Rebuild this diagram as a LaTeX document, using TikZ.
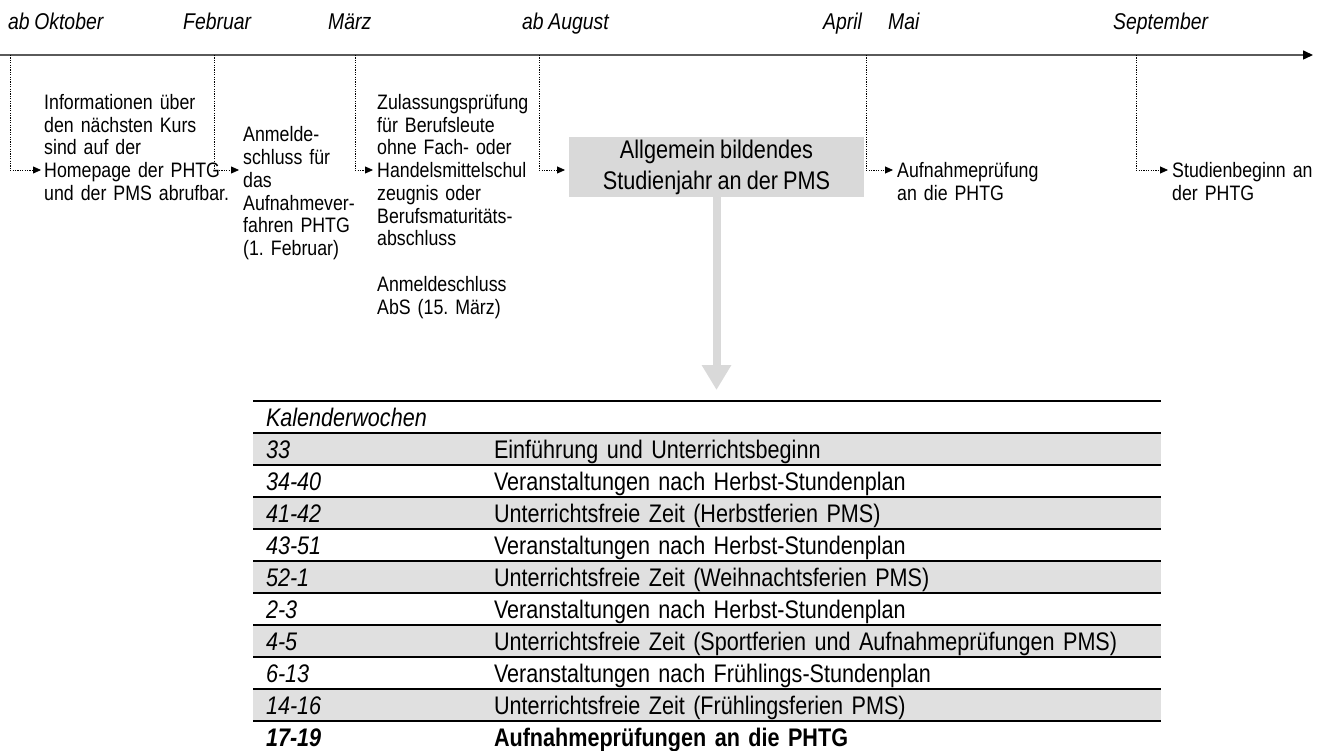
\documentclass[tikz,border=0pt]{standalone}
\usepackage{fontspec}
\setmainfont{Liberation Sans}[FakeStretch=0.85,WordSpace=0.85]
\frenchspacing
\usetikzlibrary{arrows.meta,positioning,matrix}
\definecolor{boxgray}{RGB}{217,217,217}
\definecolor{rowgray}{RGB}{224,224,224}
\definecolor{axisgray}{RGB}{90,90,90}
\newcommand{\topfont}{\fontsize{20.9}{22.75}\selectfont}
\newcommand{\monthfont}{\fontsize{22.8}{26}\selectfont\itshape}
\newcommand{\boxfont}{\fontsize{25.5}{31}\selectfont}
\newcommand{\tabfont}{\fontsize{25.4}{30}\selectfont}
\tikzset{
  month/.style={anchor=base west,inner sep=0pt,font=\monthfont},
  note/.style={anchor=base west,inner sep=0pt,text width=200pt,align=left,font=\topfont},
  yearbox/.style={fill=boxgray,minimum width=295pt,minimum height=60pt,inner sep=0pt,align=center,font=\boxfont},
  link/.style={-{Triangle[length=8pt,width=7pt]},dash pattern=on 1.2pt off 1.2pt,line width=0.8pt},
  axis/.style={-{Triangle[length=10pt,width=9pt,color=black]},line width=1.5pt,axisgray},
  bigarrow/.style={-{Triangle[length=25pt,width=28pt]},line width=8pt,boxgray},
  rule/.style={line width=1.8pt},
  cell/.style={inner ysep=0pt,outer sep=0pt,minimum height=32pt,text height=23pt,text depth=5pt,align=left,font=\tabfont}
}
\begin{document}
\begin{tikzpicture}[x=1pt,y=-1pt]
\useasboundingbox (0,0) rectangle (1321,751);
\node[month] (okt) at (8,30) {ab Oktober};
\node[month] (feb) at (183,30) {Februar};
\node[month] (mar) at (328,30) {März};
\node[month] (aug) at (522,30) {ab August};
\node[month] (apr) at (823,30) {April};
\node[month] (mai) at (888,30) {Mai};
\node[month] (sep) at (1113,30) {September};
\coordinate (axisstart) at (0,55);
\coordinate (axisend) at (1313,55);
\draw[axis] (axisstart) -- (axisend);
\coordinate (tokt) at (10,55);
\coordinate (tfeb) at (214,55);
\coordinate (tmar) at (355,55);
\coordinate (taug) at (539,55);
\coordinate (tmai) at (866,55);
\coordinate (tsep) at (1136,55);
\node[note] (info) at (44,109.5) {Informationen über\\den nächsten Kurs\\sind auf der\\Homepage der PHTG\\und der PMS abrufbar.};
\node[note] (anmeldung) at (243,142) {Anmelde-\\schluss für\\das\\Aufnahmever-\\fahren PHTG\\(1. Februar)};
\node[note] (zulassung) at (377,109.5) {Zulassungsprüfung\\für Berufsleute\\ohne Fach- oder\\Handelsmittelschul\\zeugnis oder\\Berufsmaturitäts-\\abschluss\\[22.75pt]Anmeldeschluss\\AbS (15. März)};
\node[yearbox] (year) at (716.5,167) {Allgemein bildendes\\Studienjahr an der PMS};
\node[note] (pruefung) at (897,177.5) {Aufnahmeprüfung\\an die PHTG};
\node[note] (beginn) at (1172,177.5) {Studienbeginn an\\der PHTG};
\coordinate (infoin) at (41,170);
\coordinate (anmeldungin) at (239,170);
\coordinate (zulassungin) at (373,170);
\coordinate (yearin) at (565,170);
\coordinate (pruefungin) at (893,170);
\coordinate (beginnin) at (1168,170);
\draw[link] (tokt) |- (infoin);
\draw[link] (tfeb) |- (anmeldungin);
\draw[link] (tmar) |- (zulassungin);
\draw[link] (taug) |- (yearin);
\draw[link] (tmai) |- (pruefungin);
\draw[link] (tsep) |- (beginnin);
\matrix (kw) [matrix of nodes,nodes in empty cells,anchor=north west,inner sep=0pt,outer sep=0pt,column sep=0pt,row sep=0pt,
  nodes={cell},
  column 1/.style={nodes={text width=215pt,inner xsep=13pt,font=\tabfont\itshape}},
  column 2/.style={nodes={text width=667pt,inner xsep=0pt}},
  row 2/.style={nodes={fill=rowgray}},
  row 4/.style={nodes={fill=rowgray}},
  row 6/.style={nodes={fill=rowgray}},
  row 8/.style={nodes={fill=rowgray}},
  row 10/.style={nodes={fill=rowgray}}] at (253,401) {
  Kalenderwochen & \\
  33 & Einführung und Unterrichtsbeginn \\
  34-40 & Veranstaltungen nach Herbst-Stundenplan \\
  41-42 & Unterrichtsfreie Zeit (Herbstferien PMS) \\
  43-51 & Veranstaltungen nach Herbst-Stundenplan \\
  52-1 & Unterrichtsfreie Zeit (Weihnachtsferien PMS) \\
  2-3 & Veranstaltungen nach Herbst-Stundenplan \\
  4-5 & Unterrichtsfreie Zeit (Sportferien und Aufnahmeprüfungen PMS) \\
  6-13 & Veranstaltungen nach Frühlings-Stundenplan \\
  14-16 & Unterrichtsfreie Zeit (Frühlingsferien PMS) \\
  \textbf{17-19} & \textbf{Aufnahmeprüfungen an die PHTG} \\
};
\draw[rule] (kw-1-1.north west) -- (kw-1-2.north east);
\draw[rule] (kw-1-1.south west) -- (kw-1-2.south east);
\draw[rule] (kw-2-1.south west) -- (kw-2-2.south east);
\draw[rule] (kw-3-1.south west) -- (kw-3-2.south east);
\draw[rule] (kw-4-1.south west) -- (kw-4-2.south east);
\draw[rule] (kw-5-1.south west) -- (kw-5-2.south east);
\draw[rule] (kw-6-1.south west) -- (kw-6-2.south east);
\draw[rule] (kw-7-1.south west) -- (kw-7-2.south east);
\draw[rule] (kw-8-1.south west) -- (kw-8-2.south east);
\draw[rule] (kw-9-1.south west) -- (kw-9-2.south east);
\draw[rule] (kw-10-1.south west) -- (kw-10-2.south east);
\draw[bigarrow,shorten >=11pt] (year.south) -- (year.south |- kw.north);
\end{tikzpicture}
\end{document}
